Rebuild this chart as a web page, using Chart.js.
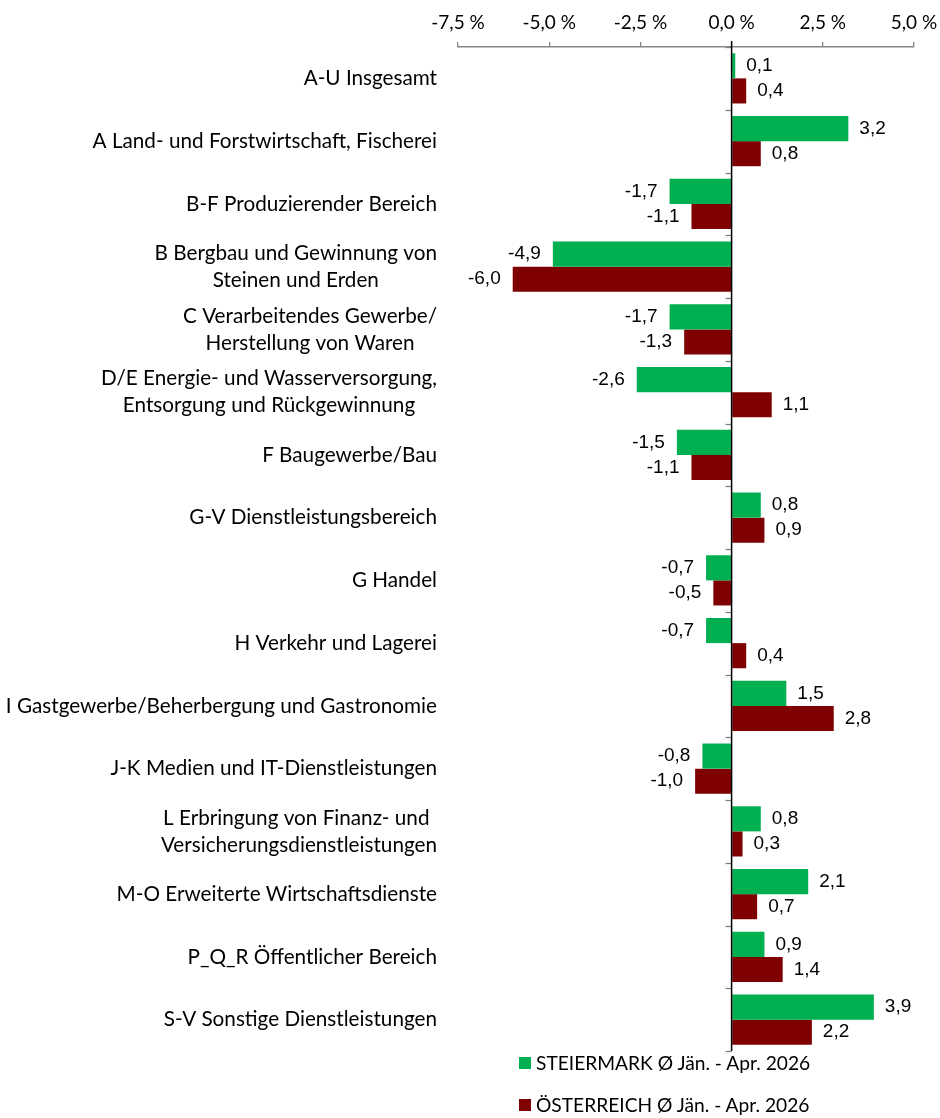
<!DOCTYPE html>
<html>
<head>
<meta charset="utf-8">
<script src="https://cdn.jsdelivr.net/npm/chart.js@4"></script>
<style>
  body { margin: 0; background: #fff; }
  #wrap { position: relative; width: 940px; height: 1118px; }
  .leg { position: absolute; left: 519px; font: 19.2px Lato, sans-serif; color: #000; white-space: nowrap; }
  .leg span { display: inline-block; width: 12px; height: 12px; margin-right: 5px; vertical-align: 1px; }
</style>
</head>
<body>
<div id="wrap">
  <canvas id="chart" width="940" height="1118"></canvas>
  <div class="leg" style="top:1051px"><span style="background:#00b050"></span>STEIERMARK Ø Jän. - Apr. 2026</div>
  <div class="leg" style="top:1093px"><span style="background:#7f0000"></span>ÖSTERREICH Ø Jän. - Apr. 2026</div>
</div>
<script>
const categories = [
  'A-U Insgesamt',
  'A Land- und Forstwirtschaft, Fischerei',
  'B-F Produzierender Bereich',
  ['B Bergbau und Gewinnung von', 'Steinen und Erden'],
  ['C Verarbeitendes Gewerbe/', 'Herstellung von Waren'],
  ['D/E Energie- und Wasserversorgung,', 'Entsorgung und Rückgewinnung'],
  'F Baugewerbe/Bau',
  'G-V Dienstleistungsbereich',
  'G Handel',
  'H Verkehr und Lagerei',
  'I Gastgewerbe/Beherbergung und Gastronomie',
  'J-K Medien und IT-Dienstleistungen',
  ['L Erbringung von Finanz- und ', 'Versicherungsdienstleistungen'],
  'M-O Erweiterte Wirtschaftsdienste',
  'P_Q_R Öffentlicher Bereich',
  'S-V Sonstige Dienstleistungen'
];
const steiermark = [0.1, 3.2, -1.7, -4.9, -1.7, -2.6, -1.5, 0.8, -0.7, -0.7, 1.5, -0.8, 0.8, 2.1, 0.9, 3.9];
const oesterreich = [0.4, 0.8, -1.1, -6.0, -1.3, 1.1, -1.1, 0.9, -0.5, 0.4, 2.8, -1.0, 0.3, 0.7, 1.4, 2.2];
const xTicks = [-7.5, -5.0, -2.5, 0.0, 2.5, 5.0];

const fmt = v => v.toFixed(1).replace('.', ',');
const labelFont = '20.7px Lato, sans-serif';

// zero line, category ticks, left labels and value labels
const extras = {
  id: 'extras',
  afterDatasetsDraw(chart) {
    const ctx = chart.ctx;
    const area = chart.chartArea;
    const x0 = chart.scales.x.getPixelForValue(0);
    const n = categories.length;
    const step = (area.bottom - area.top) / n;
    ctx.save();
    ctx.strokeStyle = '#7f7f7f';
    ctx.lineWidth = 1.3;
    for (let i = 0; i <= n; i++) {
      const y = Math.round(area.top + i * step) + 0.5;
      ctx.beginPath();
      ctx.moveTo(x0 - 6, y);
      ctx.lineTo(x0, y);
      ctx.stroke();
    }
    ctx.strokeStyle = '#000';
    ctx.lineWidth = 1.5;
    ctx.beginPath();
    ctx.moveTo(x0, area.top - 6);
    ctx.lineTo(x0, area.bottom);
    ctx.stroke();

    // category labels, right aligned block, lines centred inside
    ctx.font = labelFont;
    ctx.fillStyle = '#000';
    ctx.textAlign = 'center';
    ctx.textBaseline = 'middle';
    const right = area.left - 21;
    const lh = 27;
    categories.forEach((c, i) => {
      const lines = Array.isArray(c) ? c : [c];
      const w = Math.max(...lines.map(l => ctx.measureText(l).width));
      const cx = right - w / 2;
      const cy = chart.scales.y.getPixelForValue(i);
      lines.forEach((l, k) => {
        ctx.fillText(l, cx, cy + (k - (lines.length - 1) / 2) * lh);
      });
    });

    // value labels
    ctx.font = '19px "Liberation Sans", Arial, sans-serif';
    chart.data.datasets.forEach((ds, di) => {
      chart.getDatasetMeta(di).data.forEach((el, j) => {
        const v = ds.data[j];
        if (v >= 0) {
          ctx.textAlign = 'left';
          ctx.fillText(fmt(v), el.x + 11, el.y);
        } else {
          ctx.textAlign = 'right';
          ctx.fillText(fmt(v), el.x - 12, el.y);
        }
      });
    });
    ctx.restore();
  }
};

new Chart(document.getElementById('chart').getContext('2d'), {
  type: 'bar',
  data: {
    labels: categories,
    datasets: [{
      label: 'STEIERMARK Ø Jän. - Apr. 2026',
      data: steiermark,
      backgroundColor: '#00b050',
      categoryPercentage: 0.8,
      barPercentage: 1.0
    }, {
      label: 'ÖSTERREICH Ø Jän. - Apr. 2026',
      data: oesterreich,
      backgroundColor: '#7f0000',
      categoryPercentage: 0.8,
      barPercentage: 1.0
    }]
  },
  options: {
    indexAxis: 'y',
    responsive: false,
    animation: false,
    layout: { padding: { top: 0, right: 26, bottom: 67, left: 0 } },
    plugins: {
      legend: { display: false },
      tooltip: { enabled: false }
    },
    scales: {
      x: {
        position: 'top',
        min: -7.5,
        max: 5,
        afterBuildTicks: s => { s.ticks = xTicks.map(v => ({ value: v })); },
        afterFit: s => { s.height = 47; s.paddingLeft = 0; s.paddingRight = 0; },
        ticks: {
          padding: 8,
          color: '#000',
          font: { family: 'Lato', size: 19 },
          callback: v => fmt(v) + ' %'
        },
        grid: { drawOnChartArea: false, drawTicks: true, tickLength: 5, color: '#868686', lineWidth: 1.3 },
        border: { display: true, color: '#868686', width: 1.5 }
      },
      y: {
        afterFit: s => { s.width = 458; },
        ticks: { display: false },
        grid: { display: false },
        border: { display: false }
      }
    }
  },
  plugins: [extras]
});
</script>
</body>
</html>
